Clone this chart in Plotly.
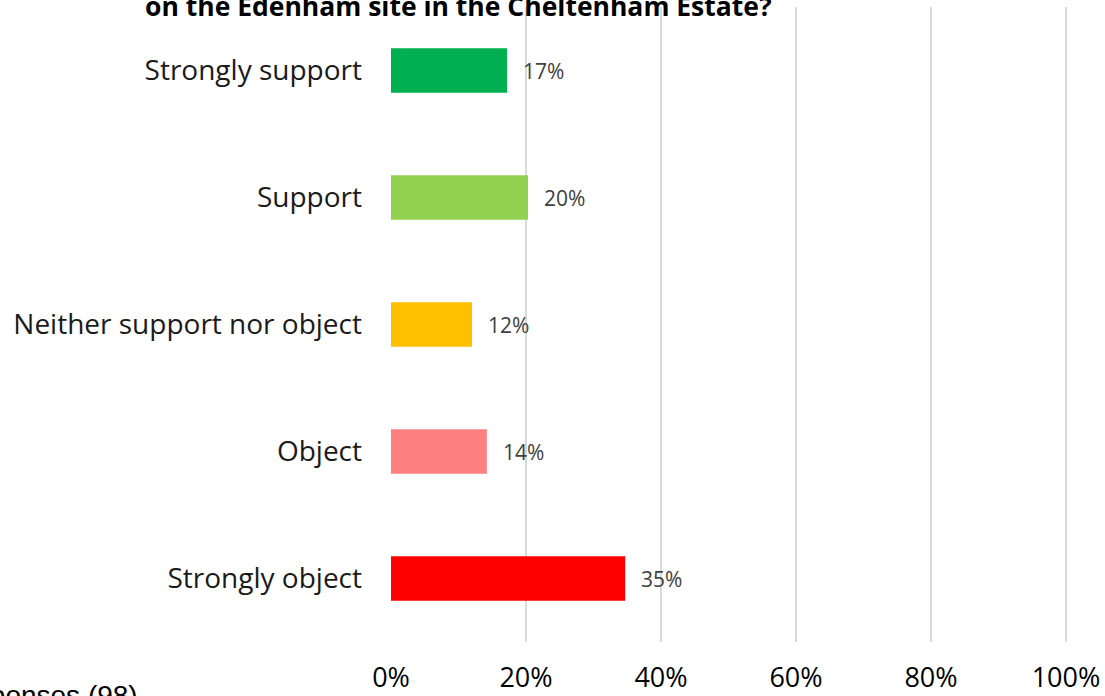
import plotly.graph_objects as go

categories = ["Strongly support", "Support", "Neither support nor object", "Object", "Strongly object"]
values = [17.2, 20.3, 12.0, 14.2, 34.7]
value_labels = ["17%", "20%", "12%", "14%", "35%"]
colors = ["#00B050", "#92D050", "#FFC000", "#FF8080", "#FF0000"]
x_ticks = [0, 20, 40, 60, 80, 100]
x_tick_labels = ["0%", "20%", "40%", "60%", "80%", "100%"]
title_text = "on the Edenham site in the Cheltenham Estate?"
footer_text = "Total responses (98)"

fig = go.Figure()
fig.add_trace(go.Bar(
    y=categories, x=values, orientation="h",
    marker=dict(color=colors, line=dict(width=0)),
    width=0.35, hoverinfo="skip",
))

for cat, v, lab in zip(categories, values, value_labels):
    fig.add_annotation(x=v, y=cat, xref="x", yref="y", text=lab, showarrow=False,
                       xanchor="left", yanchor="middle", xshift=14,
                       font=dict(family="Open Sans", size=21, color="#404040"))

fig.add_annotation(xref="paper", yref="paper", x=(458 - 391) / 675, y=1,
                   xanchor="center", yanchor="bottom", yshift=-19,
                   text="<b>" + title_text + "</b>", showarrow=False,
                   font=dict(family="Open Sans", size=26.5, color="#000000"))

fig.add_annotation(xref="paper", yref="paper", x=(140 - 391) / 675, y=0,
                   xanchor="right", yanchor="top", yshift=-36,
                   text=footer_text, showarrow=False,
                   font=dict(family="Liberation Sans", size=28, color="#000000"))

fig.update_layout(
    width=1105, height=696,
    margin=dict(l=391, r=38, t=7, b=54, autoexpand=False),
    paper_bgcolor="white", plot_bgcolor="white",
    showlegend=False,
    xaxis=dict(range=[0, 100.15], tickvals=x_ticks, ticktext=x_tick_labels,
               showgrid=True, gridcolor="#d9d9d9", gridwidth=2,
               zeroline=False, showline=False, ticks="",
               ticklabelstandoff=17,
               tickfont=dict(family="Open Sans", size=27, color="#000000")),
    yaxis=dict(categoryorder="array", categoryarray=categories, autorange="reversed",
               showgrid=False, zeroline=False, showline=False, ticks="",
               ticklabelstandoff=28,
               tickfont=dict(family="Open Sans", size=28, color="#1a1a1a")),
)

fig.write_html("out.html", config={"displayModeBar": False},
               post_script="document.body.style.margin='0';")
